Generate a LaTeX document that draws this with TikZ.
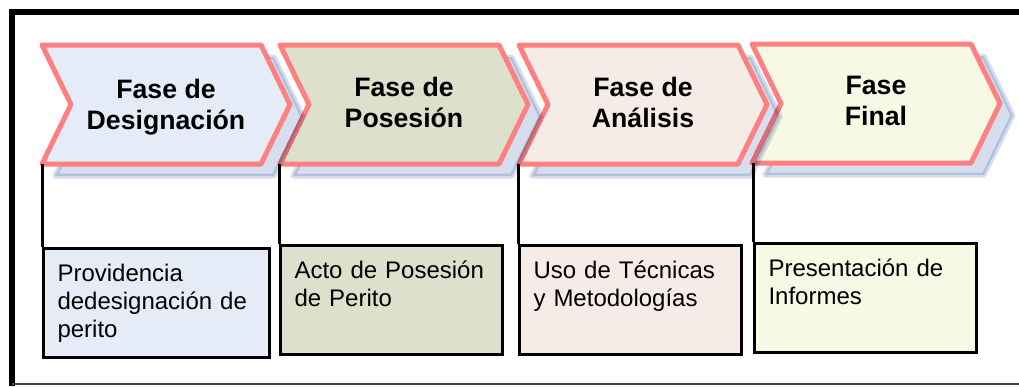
\documentclass[tikz,border=0pt]{standalone}
\usepackage{fontspec}
\setmainfont{Liberation Sans}
\usetikzlibrary{calc}

\definecolor{chevBorder}{HTML}{FF8080}
\definecolor{chevShadow}{HTML}{D6DEEE}
\definecolor{desigFill}{HTML}{E6ECF7}
\definecolor{posesFill}{HTML}{DDE0CA}
\definecolor{analiFill}{HTML}{F5ECE7}
\definecolor{finalFill}{HTML}{F8F9E4}
\definecolor{frameGray}{HTML}{454545}

\tikzset{
  chevron/.style={draw=chevBorder, line width=3.75pt, line join=round},
  chevshadow/.style={fill=chevShadow, draw=chevShadow, line width=3.75pt, line join=round},
  phasetitle/.style={align=center, inner sep=0pt, font=\fontsize{20}{23.25}\selectfont\bfseries},
  taskbox/.style={draw, line width=2.25pt, anchor=north west, align=left,
    text width=145.5pt, inner xsep=10.5pt, inner ysep=0pt,
    text height=24.75pt, text depth=57pt, font=\fontsize{18}{21}\selectfont},
  link/.style={line width=2.25pt},
}

% chevron: #1 name, #2 left x, #3 top y, #4 fill colour
\newcommand\DrawChevron[4]{%
  \pgfmathsetmacro\xR{#2+\W}
  \pgfmathsetmacro\yM{#3+0.5*\Hc}
  \pgfmathsetmacro\yB{#3+\Hc}
  \begin{scope}[blend mode=multiply]
    \filldraw[chevshadow, shift={(13,12)}] (#2,#3) -- (\xR,#3) -- (\xR+\T,\yM)
      -- (\xR,\yB) -- (#2,\yB) -- (#2+\T,\yM) -- cycle;
  \end{scope}
  \filldraw[chevron, fill=#4] (#2,#3) -- (\xR,#3) -- (\xR+\T,\yM)
    -- (\xR,\yB) -- (#2,\yB) -- (#2+\T,\yM) -- cycle;
  \coordinate (#1) at (#2,\yB); % foot of the connector
  \coordinate (#1c) at (#2+0.5*\W+0.5*\T,\yM-2); % centre of the title
}

\begin{document}
\begin{tikzpicture}[x=0.75pt,y=-0.75pt]
\useasboundingbox (0,0) rectangle (1019,386);

%% some definitions
\def\W{219} % body width of a chevron
\def\T{29} % depth of tip and notch
\def\Hc{119} % chevron height

%% chevrons, drawn from right to left so the shadows lie over the next one
\DrawChevron{p4}{752}{44}{finalFill}
\DrawChevron{p3}{519}{45}{analiFill}
\DrawChevron{p2}{280}{45}{posesFill}
\DrawChevron{p1}{42}{45}{desigFill}

\node[phasetitle] (t1) at ($(p1c)+(0,5)$) {Fase de\\Designación};
\node[phasetitle] (t2) at (p2c) {Fase de\\Posesión};
\node[phasetitle] (t3) at (p3c) {Fase de\\Análisis};
\node[phasetitle] (t4) at ($(p4c)+(0,-1)$) {Fase\\Final};

%% task boxes
\node[taskbox, fill=desigFill, text width=148.5pt] (d1) at (42,247) {Providencia\\dedesignación de\\perito};
\node[taskbox, fill=posesFill] (d2) at (279,244) {Acto de Posesión\\de Perito};
\node[taskbox, fill=analiFill] (d3) at (518,244) {Uso de Técnicas\\y Metodologías};
\node[taskbox, fill=finalFill] (d4) at (753,242) {Presentación de\\Informes};

%% connectors
\foreach \i in {1,...,4}
  \draw[link] (d\i.north west) -- (d\i.north west |- p\i);

%% frame
\draw[line width=4.1pt] (12,386) -- (12,12) -- (1019,12);
\draw[frameGray, line width=1.5pt] (12,384) -- (1019,384);

\end{tikzpicture}
\end{document}
